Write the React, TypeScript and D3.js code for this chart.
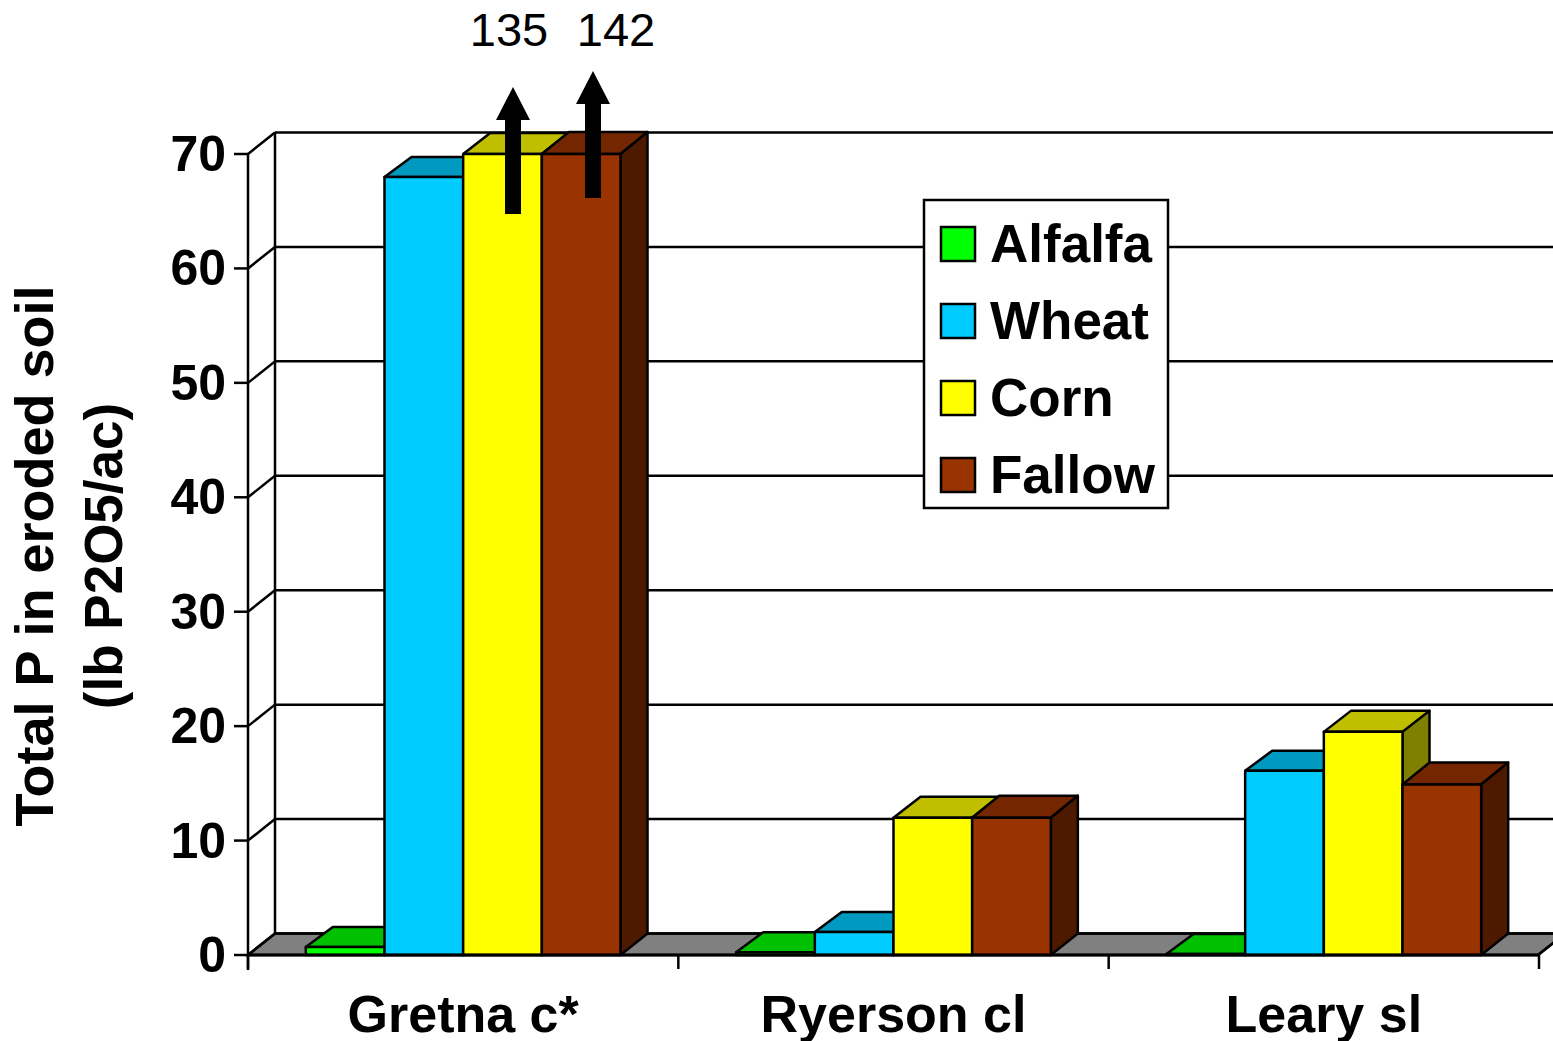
import React from "react";
import * as d3 from "d3";

const categories = ["Gretna c*", "Ryerson cl", "Leary sl"];
const seriesNames = ["Alfalfa", "Wheat", "Corn", "Fallow"];
const alfalfa = [0.7, 0.25, 0.08];
const wheat = [68, 2, 16.1];
const corn = [70, 12, 19.5];
const fallow = [70, 12, 14.9];
const seriesValues = [alfalfa, wheat, corn, fallow];
const yTicks = [0, 10, 20, 30, 40, 50, 60, 70];
const frontColors = ["#00FF00", "#00CCFF", "#FFFF00", "#993300"];
const topColors = ["#00C000", "#0099BF", "#BFBF00", "#732600"];
const sideColors = ["#008000", "#006680", "#808000", "#4D1A00"];
const arrowLabels = ["135", "142"];

const W = 1553, H = 1041;
const DX = 27, DY = 21.5;
const barDepthY = [20, 20, 21, 22];
const y = d3.scaleLinear().domain([0, 70]).range([955, 154]);
const x0 = d3.scaleBand<string>().domain(categories).range([248, 1539]);
const x1 = d3.scaleBand<string>().domain(seriesNames).range([0, x0.bandwidth()]).paddingInner(0).paddingOuter(0.735);
const xEdges = d3.range(categories.length + 1).map((i) => 248 + i * x0.step());
const line = d3.line();
const poly = (p: [number, number][]) => line(p)! + "Z";
const sans = "'Liberation Sans', Arial, sans-serif";
const SW = 2.5;

const arrows = [
  { cx: 513, apex: 87, base: 120, end: 214 },
  { cx: 593, apex: 71, base: 104, end: 198 },
];
const arrowLabelX = [509, 616];
const legendRowY = [244, 321, 398, 475];

export default function App() {
  const y0 = y(0);
  return (
    <svg width={W} height={H} viewBox={`0 0 ${W} ${H}`} style={{ position: "absolute", left: 0, top: 0, background: "#fff" }} fontFamily={sans}>
      {/* floor */}
      <path d={poly([[248, y0], [248 + DX, y0 - DY], [1553 + DX, y0 - DY], [1538 + DX, y0 - DY], [1538, y0]])} fill="#808080" stroke="#000" strokeWidth={SW} />
      {/* back wall grid + side wall */}
      {yTicks.map((t) => (
        <g key={t} stroke="#000" strokeWidth={SW} fill="none">
          <line x1={248 + DX} x2={W} y1={y(t) - DY} y2={y(t) - DY} />
          <line x1={248} x2={248 + DX} y1={y(t)} y2={y(t) - DY} />
          <line x1={234} x2={248} y1={y(t)} y2={y(t)} />
        </g>
      ))}
      <line x1={248} x2={248} y1={y(70)} y2={970} stroke="#000" strokeWidth={SW} />
      <line x1={248 + DX} x2={248 + DX} y1={y(70) - DY} y2={y0 - DY} stroke="#000" strokeWidth={SW} />
      {/* bars */}
      {categories.map((c, ci) =>
        seriesNames.map((s, si) => {
          const v = seriesValues[si][ci];
          const xl = x0(c)! + x1(s)!;
          const xr = xl + x1.bandwidth();
          const yt = y(v);
          const dy = barDepthY[si];
          return (
            <g key={c + s} stroke="#000" strokeWidth={SW} strokeLinejoin="round">
              <path d={poly([[xl, yt], [xl + DX, yt - dy], [xr + DX, yt - dy], [xr, yt]])} fill={topColors[si]} />
              <path d={poly([[xr, yt], [xr + DX, yt - dy], [xr + DX, y0 - DY], [xr, y0]])} fill={sideColors[si]} />
              <rect x={xl} y={yt} width={xr - xl} height={y0 - yt} fill={frontColors[si]} />
            </g>
          );
        })
      )}
      {/* baseline + x ticks */}
      <line x1={248} x2={1538} y1={y0} y2={y0} stroke="#000" strokeWidth={3} />
      <line x1={1538} x2={1538 + DX} y1={y0} y2={y0 - DY} stroke="#000" strokeWidth={SW} />
      {xEdges.map((x) => (
        <line key={x} x1={x} x2={x} y1={y0} y2={969} stroke="#000" strokeWidth={SW} />
      ))}
      {/* y tick labels */}
      {yTicks.map((t) => (
        <text key={t} x={226} y={y(t) + 17} textAnchor="end" fontSize={50} fontWeight="bold" fill="#000">{t}</text>
      ))}
      {/* category labels */}
      {categories.map((c) => (
        <text key={c} x={x0(c)! + x0.bandwidth() / 2} y={1032} textAnchor="middle" fontSize={52} fontWeight="bold" fill="#000">{c}</text>
      ))}
      {/* y title */}
      <g transform="translate(53,556) rotate(-90)">
        <text textAnchor="middle" fontSize={54} fontWeight="bold" fill="#000">Total P in eroded soil</text>
        <text y={69} textAnchor="middle" fontSize={53} fontWeight="bold" fill="#000">(lb P2O5/ac)</text>
      </g>
      {/* legend */}
      <rect x={924} y={200} width={244} height={308} fill="#fff" stroke="#000" strokeWidth={SW} />
      {seriesNames.map((s, i) => (
        <g key={s}>
          <rect x={941} y={legendRowY[i] - 17} width={34} height={34} fill={frontColors[i]} stroke="#000" strokeWidth={SW} />
          <text x={990} y={legendRowY[i] + 18} fontSize={53} fontWeight="bold" fill="#000">{s}</text>
        </g>
      ))}
      {/* arrows */}
      {arrows.map((a, i) => (
        <g key={i} fill="#000">
          <path d={poly([[a.cx, a.apex], [a.cx + 17, a.base], [a.cx + 8, a.base], [a.cx + 8, a.end], [a.cx - 8, a.end], [a.cx - 8, a.base], [a.cx - 17, a.base]])} />
          <text x={arrowLabelX[i]} y={46} textAnchor="middle" fontSize={47}>{arrowLabels[i]}</text>
        </g>
      ))}
    </svg>
  );
}
